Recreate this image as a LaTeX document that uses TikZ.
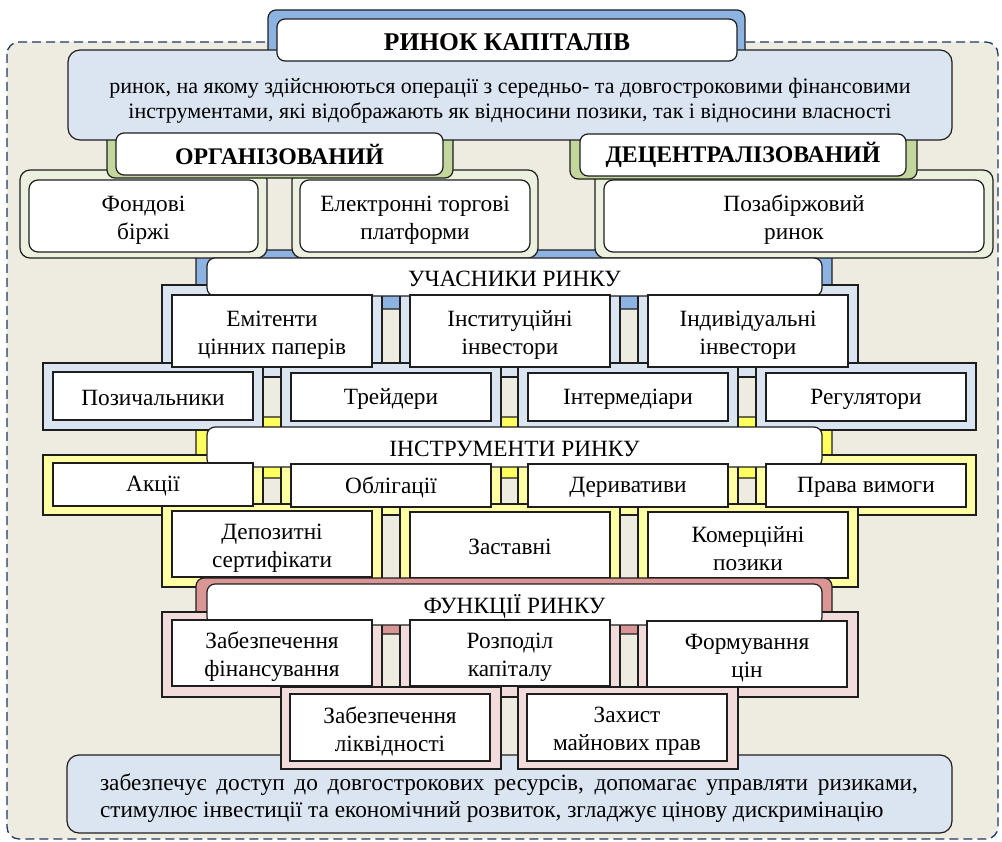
\documentclass[tikz,border=0pt]{standalone}
\usepackage{fontspec}
\setmainfont{Liberation Serif}

\definecolor{bg}{HTML}{EEECE1}
\definecolor{edge}{HTML}{1E1E1E}
\definecolor{dashblue}{HTML}{203864}
\definecolor{paleblue}{HTML}{DBE5F1}
\definecolor{midblue}{HTML}{8DB3E2}
\definecolor{gback}{HTML}{C3D69B}
\definecolor{gframe}{HTML}{EBF1DE}
\definecolor{yback}{HTML}{FFFF5E}
\definecolor{yframe}{HTML}{FFFFA3}
\definecolor{rback}{HTML}{D99694}
\definecolor{rframe}{HTML}{F2DCDB}

\tikzset{
  outline/.style={draw=edge, line width=1.2pt},
  backing/.style={outline, rounded corners=8pt},
  plate/.style={outline, fill=white},
  roundplate/.style={outline, fill=white, rounded corners=9pt},
  headplate/.style={outline, fill=white, rounded corners=8pt},
  lbl/.style={align=center, inner sep=0pt, yshift=-2pt, font=\fontsize{23.3}{28}\selectfont},
  twolbl/.style={lbl, yshift=-2pt},
  boldlbl/.style={align=center, inner sep=0pt, font=\fontsize{23.8}{28}\selectfont\bfseries},
}

% a filled shape with a one-line label at the centre
\newcommand\card[7]{%
  \draw[#2] (#3,#4) rectangle (#5,#6);
  \node[lbl] (#1) at ({(#3+#5)/2},{(#4+#6)/2}) {#7};}
% the same with a two-line label
\newcommand\cardtwo[7]{%
  \draw[#2] (#3,#4) rectangle (#5,#6);
  \node[twolbl] (#1) at ({(#3+#5)/2},{(#4+#6)/2}) {#7};}
% the same with a bold label
\newcommand\boldcard[7]{%
  \draw[#2] (#3,#4) rectangle (#5,#6);
  \node[boldlbl] (#1) at ({(#3+#5)/2},{(#4+#6)/2}) {#7};}

\begin{document}
\begin{tikzpicture}[x=1pt,y=-1pt]
\useasboundingbox (0,0) rectangle (1002,842);

% dashed frame of the whole scheme
\draw[draw=dashblue, fill=bg, line width=1.3pt, dash pattern=on 9pt off 5pt,
      rounded corners=12pt] (7,42) rectangle (998,839);

% coloured backings that sit behind the blocks
\draw[backing, fill=midblue] (268,10) rectangle (745,70);
\draw[backing, fill=midblue] (196,250) rectangle (832,309);
\draw[backing, fill=yback]   (196,417) rectangle (832,478);

% organised / decentralised market blocks
\draw[outline, fill=gframe, rounded corners=10pt] (20,170) rectangle (267,258);
\draw[outline, fill=gframe, rounded corners=10pt] (292,170) rectangle (538,258);
\draw[outline, fill=gframe, rounded corners=10pt] (595,170) rectangle (993,258);
\cardtwo{stock}{roundplate}{29}{180}{258}{252}{Фондові\\біржі}
\cardtwo{etp}{roundplate}{300}{180}{530}{252}{Електронні торгові\\платформи}
\cardtwo{otc}{roundplate}{604}{180}{984}{252}{Позабіржовий\\ринок}

\draw[backing, fill=gback] (107,120) rectangle (453,178);
\draw[backing, fill=gback] (570,120) rectangle (917,179);

% definition
\draw[outline, fill=paleblue, rounded corners=12pt] (68,50) rectangle (952,140);
\node[align=center, inner sep=0pt, font=\fontsize{22}{25}\selectfont] (defn) at (510,101)
  {ринок, на якому здійснюються операції з середньо- та довгостроковими фінансовими\\
   інструментами, які відображають як відносини позики, так і відносини власності};

\draw[headplate] (277,19) rectangle (737,61);
\node[boldlbl, font=\fontsize{25.5}{28}\selectfont\bfseries] (title) at (507,42) {РИНОК КАПІТАЛІВ};
\boldcard{org}{headplate}{116}{133}{443}{175}{ОРГАНІЗОВАНИЙ}
\boldcard{decen}{headplate}{580}{134}{906}{176}{ДЕЦЕНТРАЛІЗОВАНИЙ}

% market participants
\foreach \a in {162,400,638}
  \draw[outline, fill=paleblue] (\a,285) rectangle (\a+220,377);
\foreach \a in {43,281,518,756}
  \draw[outline, fill=paleblue] (\a,363) rectangle (\a+220,430);
\card{parts}{headplate}{207}{258}{822}{296}{УЧАСНИКИ РИНКУ}
\cardtwo{iss}{plate}{172}{295}{372}{367}{Емітенти\\цінних паперів}
\cardtwo{inst}{plate}{410}{295}{610}{367}{Інституційні\\інвестори}
\cardtwo{indiv}{plate}{648}{295}{848}{367}{Індивідуальні\\інвестори}
\card{borr}{plate}{53}{372}{253}{420}{Позичальники}
\card{trad}{plate}{291}{373}{491}{421}{Трейдери}
\card{interm}{plate}{528}{373}{728}{421}{Інтермедіари}
\card{regul}{plate}{766}{373}{966}{421}{Регулятори}

% market instruments
\foreach \a in {43,281,518,756}
  \draw[outline, fill=yframe] (\a,455) rectangle (\a+220,515);
\foreach \a in {162,400,638}
  \draw[outline, fill=yframe] (\a,504) rectangle (\a+220,587);
\card{instr}{headplate}{207}{427}{822}{467}{ІНСТРУМЕНТИ РИНКУ}
\card{shares}{plate}{53}{463}{253}{506}{Акції}
\card{bonds}{plate}{291}{464}{491}{507}{Облігації}
\card{deriv}{plate}{528}{464}{728}{507}{Деривативи}
\card{claims}{plate}{766}{464}{966}{507}{Права вимоги}
\cardtwo{depos}{plate}{172}{511}{372}{577}{Депозитні\\сертифікати}
\card{mortg}{plate}{410}{512}{610}{578}{Заставні}
\cardtwo{cpaper}{plate}{648}{512}{848}{578}{Комерційні\\позики}

% market functions
\draw[backing, fill=rback] (196,578) rectangle (832,634);

% summary of the role of the market
\draw[outline, fill=paleblue, rounded corners=12pt] (67,755) rectangle (952,833);
\node[align=justify, inner sep=0pt, text width=818pt, font=\fontsize{23.3}{27.5}\selectfont]
  (summary) at (509,798)
  {забезпечує доступ до довгострокових ресурсів, допомагає управляти ризиками,\linebreak
   стимулює інвестиції та економічний розвиток, згладжує цінову дискримінацію};

\foreach \a in {162,400,638}
  \draw[outline, fill=rframe] (\a,612) rectangle (\a+220,697);
\foreach \a in {281,518}
  \draw[outline, fill=rframe] (\a,687) rectangle (\a+220,769);
\card{funcs}{headplate}{207}{584}{822}{625}{ФУНКЦІЇ РИНКУ}
\cardtwo{fin}{plate}{172}{620}{372}{686}{Забезпечення\\фінансування}
\cardtwo{alloc}{plate}{410}{620}{610}{686}{Розподіл\\капіталу}
\cardtwo{price}{plate}{647}{621}{847}{687}{Формування\\цін}
\cardtwo{liq}{plate}{290}{694}{490}{761}{Забезпечення\\ліквідності}
\cardtwo{prop}{plate}{527}{694}{727}{761}{Захист\\майнових прав}
\end{tikzpicture}
\end{document}
